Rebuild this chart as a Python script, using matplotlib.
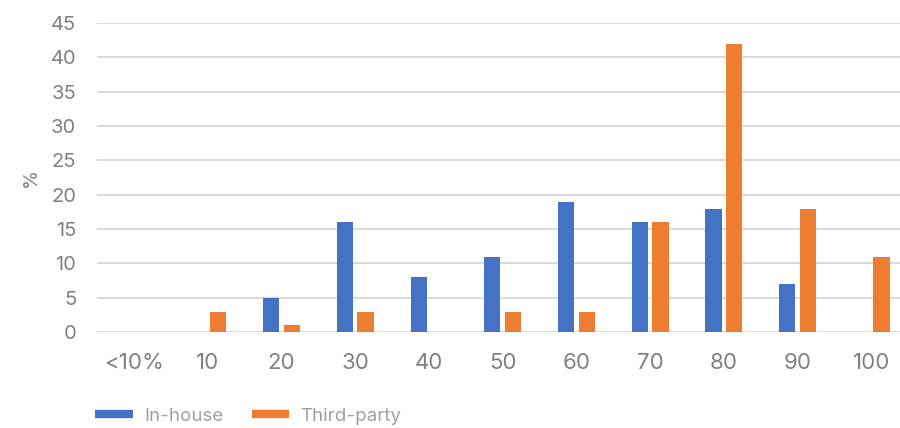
import matplotlib
matplotlib.use("Agg")
import matplotlib.pyplot as plt
import numpy as np

categories = ["<10%", "10", "20", "30", "40", "50", "60", "70", "80", "90", "100"]
in_house = [0, 0, 5, 16, 8, 11, 19, 16, 18, 7, 0]
third_party = [0, 3, 1, 3, 0, 3, 3, 16, 42, 18, 11]
series_names = ["In-house", "Third-party"]
colors = ["#4472C4", "#ED7D31"]
yticks = list(range(0, 50, 5))

plt.rcParams["font.family"] = ["Inter", "DejaVu Sans"]
text_color = "#808080"
legend_color = "#A0A0A0"

fig = plt.figure(figsize=(9, 4.28), dpi=100)
ax = fig.add_axes([0.108, 0.224, 0.901, 0.722])

x = np.arange(len(categories))
w = 0.22
off = 0.14
ax.bar(x - off, in_house, w, color=colors[0], label=series_names[0], zorder=3)
ax.bar(x + off, third_party, w, color=colors[1], label=series_names[1], zorder=3)

ax.set_xlim(-0.5, len(categories) - 0.5)
ax.set_ylim(0, 45)
ax.set_yticks(yticks)
ax.yaxis.grid(True, color="#D9D9D9", linewidth=1.4, zorder=0)
ax.set_axisbelow(True)
for s in ax.spines.values():
    s.set_visible(False)
ax.tick_params(axis="both", length=0, colors=text_color)
ax.tick_params(axis="y", pad=15, labelsize=14.5)
ax.tick_params(axis="x", pad=15, labelsize=16)
ax.set_xticks(x)
ax.set_xticklabels(categories)
ax.set_ylabel("%", color=text_color, fontsize=14, labelpad=8)

handles = [plt.Line2D([0], [0], color=c, linewidth=6, solid_capstyle="butt") for c in colors]
fig.legend(handles, series_names, loc="center left", bbox_to_anchor=(0.106, 0.028),
           ncol=2, frameon=False, fontsize=13.5, labelcolor=legend_color,
           handlelength=2.0, columnspacing=1.5, handletextpad=0.6,
           borderaxespad=0, borderpad=0)

fig.savefig("out.png", dpi=100)
